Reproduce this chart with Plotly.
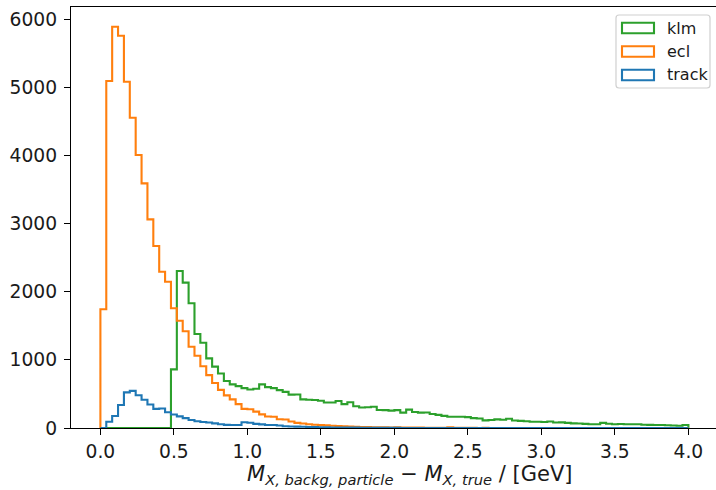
import numpy as np
import plotly.graph_objects as go

# ---- data -------------------------------------------------------------
BIN_START = 0.0
BIN_WIDTH = 0.04
N_BINS = 100

labels = ["klm", "ecl", "track"]
colors = ["#2ca02c", "#ff7f0e", "#1f77b4"]

klm = [0] * 12 + [
    860, 2303, 2132, 1829, 1379, 1251, 1022, 900, 800, 690,
    640, 615, 585, 565, 575, 640, 600, 585, 555, 530,
    490, 492, 420, 415, 410, 400, 375, 375, 396, 350,
    378, 320, 300, 305, 312, 265, 262, 255, 262, 225,
    270, 235, 225, 228, 205, 192, 178, 166, 165, 164,
    160, 145, 140, 112, 118, 127, 122, 135, 110, 105,
    100, 92, 92, 88, 95, 80, 82, 75, 68, 66,
    60, 56, 55, 75, 62, 56, 58, 55, 55, 54,
    48, 46, 45, 44, 40, 36, 32, 45,
]

ecl = [
    1741, 5090, 5887, 5755, 5080, 4552, 4005, 3589, 3061, 2670,
    2293, 2146, 1756, 1574, 1420, 1193, 1060, 905, 775, 660,
    560, 478, 420, 350, 280, 275, 240, 200, 168, 165,
    128, 125, 95, 75, 66, 56, 48, 42, 38, 33,
    28, 25, 22, 18, 15, 14, 12, 10, 9, 8,
    12, 7, 6, 5, 5, 4, 4, 3, 4, 10,
    3, 2, 2, 2, 1, 2, 1, 1, 1, 1,
    1, 0, 1, 0, 1, 0, 0, 1, 0, 0,
    0, 0, 0, 0, 0, 0, 0, 0, 0, 0,
    0, 0, 0, 0, 0, 0, 0, 0, 0, 0,
]

track = [
    0, 92, 176, 337, 523, 545, 480, 415, 345, 280,
    285, 232, 198, 170, 145, 118, 100, 88, 80, 68,
    56, 46, 45, 44, 85, 76, 60, 53, 45, 44,
    36, 26, 22, 20, 18, 15, 13, 11, 10, 8,
    7, 6, 5, 5, 4, 4, 3, 3, 2, 2,
    2, 1, 1, 1, 1, 1, 0, 1, 0, 0,
    0, 0, 0, 0, 0, 0, 0, 0, 0, 0,
    0, 0, 0, 0, 0, 0, 0, 0, 0, 0,
    0, 0, 0, 0, 0, 0, 0, 0, 0, 0,
    0, 0, 0, 0, 0, 0, 0, 0, 0, 0,
]

series = [klm, ecl, track]

x_ticks = [0.0, 0.5, 1.0, 1.5, 2.0, 2.5, 3.0, 3.5, 4.0]
y_ticks = [0, 1000, 2000, 3000, 4000, 5000, 6000]

# ---- figure -----------------------------------------------------------
W, H = 716, 490
L, R, T, B = 71, 0, 7, 62
PW, PH = W - L - R, H - T - B
X0 = -0.2
X1 = X0 + PW / 147.0
Y1 = PH / (409.0 / 6000.0)

edges = BIN_START + BIN_WIDTH * np.arange(N_BINS + 1)


def step_xy(vals):
    xs = [edges[0]] + list(edges[:-1]) + [edges[-1], edges[-1]]
    ys = [0] + list(vals) + [vals[-1], 0]
    return xs, ys


fig = go.Figure()
for lab, col, vals in zip(labels, colors, series):
    xs, ys = step_xy(vals)
    fig.add_trace(go.Scatter(x=xs, y=ys, mode="lines", name=lab,
                             line=dict(color=col, width=2.1, shape="hv"),
                             showlegend=False, cliponaxis=True))

FONT = "DejaVu Sans"


def px(xp):
    return (xp - L) / PW


def py(yp):
    return (H - B - yp) / PH


shapes = []
# legend frame (rounded)
lx0, lx1, ly0, ly1, r = 616, 710, 15, 88, 3
path = (f"M {px(lx0 + r)},{py(ly0)} L {px(lx1 - r)},{py(ly0)} "
        f"Q {px(lx1)},{py(ly0)} {px(lx1)},{py(ly0 + r)} "
        f"L {px(lx1)},{py(ly1 - r)} Q {px(lx1)},{py(ly1)} {px(lx1 - r)},{py(ly1)} "
        f"L {px(lx0 + r)},{py(ly1)} Q {px(lx0)},{py(ly1)} {px(lx0)},{py(ly1 - r)} "
        f"L {px(lx0)},{py(ly0 + r)} Q {px(lx0)},{py(ly0)} {px(lx0 + r)},{py(ly0)} Z")
shapes.append(dict(type="path", xref="paper", yref="paper", path=path,
                   line=dict(color="#d0d0d0", width=1.2), fillcolor="rgba(255,255,255,0.8)"))
annotations = []
row_y = [28, 51.5, 75]
for lab, col, yc in zip(labels, colors, row_y):
    shapes.append(dict(type="rect", xref="paper", yref="paper",
                       x0=px(622), x1=px(654), y0=py(yc - 5.3), y1=py(yc + 5.3),
                       line=dict(color=col, width=2.1), fillcolor="rgba(0,0,0,0)"))
    annotations.append(dict(xref="paper", yref="paper", x=px(665), y=py(yc),
                            text=lab, showarrow=False, xanchor="left", yanchor="middle",
                            font=dict(family=FONT, size=16, color="#1a1a1a")))

annotations.append(dict(xref="paper", yref="paper", x=px(409), y=py(475),
                        text="<i>M</i><sub><i>X, backg, particle</i></sub> \u2212 "
                             "<i>M</i><sub><i>X, true</i></sub> / [GeV]",
                        showarrow=False, xanchor="center", yanchor="middle",
                        font=dict(family=FONT, size=21, color="#1a1a1a")))

axis_common = dict(showgrid=False, zeroline=False, showline=True, mirror=True,
                   linecolor="black", linewidth=1.3, ticks="outside", ticklen=6,
                   tickwidth=1.3, tickcolor="black",
                   tickfont=dict(family=FONT, size=18.7, color="#1a1a1a"))

fig.update_layout(
    width=W, height=H,
    margin=dict(l=L, r=R, t=T, b=B, pad=0),
    paper_bgcolor="white", plot_bgcolor="white",
    font=dict(family=FONT, size=18.7, color="#1a1a1a"),
    shapes=shapes, annotations=annotations,
    xaxis=dict(range=[X0, X1], tickvals=x_ticks,
               ticktext=[f"{v:.1f}" for v in x_ticks], **axis_common),
    yaxis=dict(range=[0, Y1], tickvals=y_ticks, ticklabelstandoff=3,
               ticktext=[str(v) for v in y_ticks], **axis_common),
)

fig.write_html("out.html")
